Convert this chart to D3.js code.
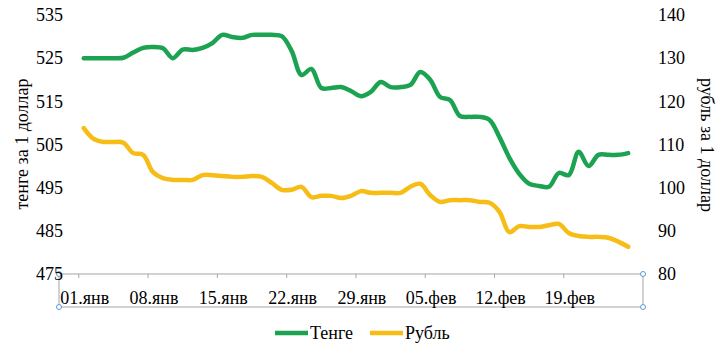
<!DOCTYPE html>
<html>
<head>
<meta charset="utf-8">
<script src="https://cdn.jsdelivr.net/npm/d3@7"></script>
<style>
    body { margin: 0; background: #fff; }
    svg text { font-family: "Liberation Serif", "Times New Roman", serif; fill: #000; }
</style>
</head>
<body>
<div id="chart"></div>
<script>
const width = 727;
const height = 349;

// daily dates, 01.янв .. 25.фев
const dates = d3.timeDay.range(new Date(2016, 0, 1), new Date(2016, 1, 26));

const tenge = [
    525.0, 525.0, 525.0, 525.0, 525.1, 526.3, 527.4, 527.6, 527.3, 525.0,
    527.0, 526.9, 527.4, 528.5, 530.4, 529.9, 529.7, 530.4, 530.4, 530.4,
    530.1, 526.7, 521.1, 522.5, 518.1, 518.1, 518.3, 517.4, 516.2, 517.2,
    519.5, 518.3, 518.3, 518.8, 521.8, 520.0, 516.0, 515.3, 511.6, 511.4,
    511.4, 510.7, 506.7, 501.9, 498.2, 495.9, 495.4, 495.2, 498.4, 497.9,
    503.3, 500.0, 502.6, 502.6, 502.6, 503.0
];

const rouble = [
    113.8, 111.3, 110.6, 110.6, 110.4, 108.0, 107.6, 103.6, 102.2, 101.8,
    101.8, 101.8, 102.9, 102.9, 102.7, 102.5, 102.5, 102.7, 102.5, 101.1,
    99.5, 99.5, 100.2, 97.8, 98.1, 98.1, 97.6, 98.1, 99.2, 98.8,
    98.8, 98.8, 98.8, 100.2, 100.9, 98.3, 96.7, 97.1, 97.1, 97.1,
    96.7, 96.5, 94.4, 89.7, 91.1, 90.9, 90.9, 91.3, 91.6, 89.5,
    88.8, 88.6, 88.6, 88.4, 87.5, 86.3
];

const xTickDates = [
    new Date(2016, 0, 1), new Date(2016, 0, 8), new Date(2016, 0, 15), new Date(2016, 0, 22),
    new Date(2016, 0, 29), new Date(2016, 1, 5), new Date(2016, 1, 12), new Date(2016, 1, 19)
];
const xTickLabels = ["01.янв", "08.янв", "15.янв", "22.янв", "29.янв", "05.фев", "12.фев", "19.фев"];

const leftTicks = [475, 485, 495, 505, 515, 525, 535];
const rightTicks = [80, 90, 100, 110, 120, 130, 140];

const series = [
    { name: "Тенге", values: tenge, color: "#1ba352", axis: "left" },
    { name: "Рубль", values: rouble, color: "#f6bd16", axis: "right" }
];

const plot = { left: 59, right: 643, top: 15, bottom: 274 };
const halfDay = 12 * 3600 * 1000;

const svg = d3.select('#chart')
    .append("svg")
    .attr('width', width)
    .attr('height', height);

const x = d3.scaleTime()
    .domain([new Date(+new Date(2015, 11, 30) - halfDay), new Date(+new Date(2016, 1, 26) + halfDay)])
    .range([plot.left, plot.right]);

const yLeft = d3.scaleLinear().domain([475, 535]).range([plot.bottom, plot.top]);
const yRight = d3.scaleLinear().domain([80, 140]).range([plot.bottom, plot.top]);

// lines
series.forEach(s => {
    const y = s.axis === "left" ? yLeft : yRight;
    const line = d3.line()
        .x((d, i) => x(dates[i]))
        .y(d => y(d))
        .curve(d3.curveCatmullRom.alpha(0.5));
    svg.append("path")
        .datum(s.values)
        .attr("d", line)
        .style("fill", "none")
        .style("stroke", s.color)
        .style("stroke-width", 4.5)
        .style("stroke-linecap", "round")
        .style("stroke-linejoin", "round");
});

// x axis frame
const frameBottom = 307;
const frame = svg.append("g").style("stroke", "#a6a6a6").style("fill", "none");
frame.append("rect")
    .attr("x", plot.left)
    .attr("y", plot.bottom)
    .attr("width", plot.right - plot.left)
    .attr("height", frameBottom - plot.bottom)
    .style("stroke-width", 1);

frame.selectAll(".tickmark")
    .data(xTickDates)
    .enter()
    .append("line")
    .attr("class", "tickmark")
    .attr("x1", d => x(new Date(+d - halfDay)))
    .attr("x2", d => x(new Date(+d - halfDay)))
    .attr("y1", plot.bottom)
    .attr("y2", plot.bottom + 4);

svg.selectAll(".xlabel")
    .data(xTickDates)
    .enter()
    .append("text")
    .attr("class", "xlabel")
    .attr("x", d => x(d) + 1)
    .attr("y", 298)
    .attr("dy", "0.35em")
    .attr("text-anchor", "middle")
    .style("font-size", "18px")
    .text((d, i) => xTickLabels[i]);

// selection handles
const corners = [[plot.left, plot.bottom], [plot.left, frameBottom], [plot.right, plot.bottom], [plot.right, frameBottom]];
svg.selectAll(".handle")
    .data(corners)
    .enter()
    .append("circle")
    .attr("class", "handle")
    .attr("cx", d => d[0])
    .attr("cy", d => d[1])
    .attr("r", 2.5)
    .style("fill", "#fff")
    .style("stroke", "#5b9bd5")
    .style("stroke-width", 1);

// y axes
const leftAxis = svg.append("g")
    .attr("transform", `translate(${plot.left + 4},0)`)
    .call(d3.axisLeft(yLeft).tickValues(leftTicks).tickSize(0).tickPadding(0));
const rightAxis = svg.append("g")
    .attr("transform", `translate(${plot.right + 15},0)`)
    .call(d3.axisRight(yRight).tickValues(rightTicks).tickSize(0).tickPadding(0));

[leftAxis, rightAxis].forEach(a => {
    a.attr("font-family", null);
    a.select(".domain").remove();
    a.selectAll("text")
        .style("font-size", "18px")
        .style("fill", "#000");
});

// axis titles
svg.append("text")
    .attr("transform", "translate(22,144) rotate(-90)")
    .attr("text-anchor", "middle")
    .attr("dy", "0.35em")
    .style("font-size", "18px")
    .text("тенге за 1 доллар");

svg.append("text")
    .attr("transform", "translate(707,145) rotate(90)")
    .attr("text-anchor", "middle")
    .attr("dy", "0.35em")
    .style("font-size", "18px")
    .text("рубль за 1 доллар");

// legend
const legendX = [275, 370];
const legend = svg.selectAll(".legend")
    .data(series)
    .enter()
    .append("g")
    .attr("class", "legend")
    .attr("transform", (d, i) => `translate(${legendX[i]},333)`);

legend.append("line")
    .attr("x1", 0)
    .attr("x2", 33)
    .style("stroke", d => d.color)
    .style("stroke-width", 4.5);

legend.append("text")
    .attr("x", 35)
    .attr("dy", "0.35em")
    .style("font-size", "18px")
    .text(d => d.name);
</script>
</body>
</html>
